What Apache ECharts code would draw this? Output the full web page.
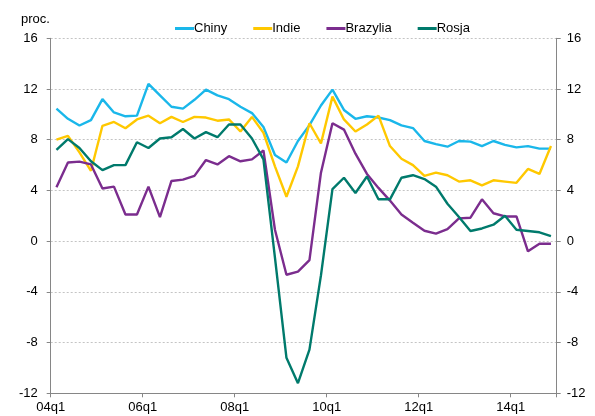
<!DOCTYPE html>
<html>
<head>
<meta charset="utf-8">
<script src="https://cdn.jsdelivr.net/npm/echarts@6/dist/echarts.min.js"></script>
<style>
html,body{margin:0;padding:0;background:#fff;}
#c{width:595px;height:416px;}
</style>
</head>
<body>
<div id="c"></div>
<script>
var categories = [];
(function(){
  for (var y = 4; y <= 14; y++) {
    for (var q = 1; q <= 4; q++) {
      categories.push((y < 10 ? '0' + y : '' + y) + 'q' + q);
    }
  }
})();

var seriesNames = ['Chiny', 'Indie', 'Brazylia', 'Rosja'];

var chiny = [10.45, 9.65, 9.12, 9.55, 11.2, 10.15, 9.85, 9.9, 12.4, 11.5, 10.6, 10.45,
  11.15, 11.95, 11.5, 11.2, 10.6, 10.1, 9.0, 6.8, 6.2, 7.9, 9.15, 10.7,
  11.95, 10.35, 9.65, 9.85, 9.75, 9.55, 9.13, 8.92, 7.9, 7.65, 7.45, 7.9,
  7.85, 7.5, 7.9, 7.6, 7.4, 7.5, 7.3, 7.3];

var indie = [8.0, 8.3, 7.0, 5.55, 9.1, 9.4, 8.9, 9.6, 9.9, 9.3, 9.8, 9.4,
  9.8, 9.75, 9.5, 9.6, 8.65, 9.8, 8.55, 5.9, 3.5, 5.9, 9.3, 7.7,
  11.4, 9.6, 8.65, 9.2, 9.9, 7.5, 6.5, 6.0, 5.15, 5.4, 5.2, 4.7,
  4.8, 4.4, 4.8, 4.7, 4.6, 5.7, 5.3, 7.5];

var brazylia = [4.25, 6.2, 6.27, 6.05, 4.15, 4.3, 2.1, 2.1, 4.3, 1.9, 4.75, 4.85,
  5.15, 6.4, 6.05, 6.7, 6.3, 6.45, 7.15, 0.9, -2.65, -2.4, -1.5, 5.4,
  9.3, 8.8, 6.9, 5.3, 4.2, 3.2, 2.1, 1.45, 0.82, 0.6, 0.95, 1.8,
  1.85, 3.3, 2.2, 1.95, 1.95, -0.8, -0.2, -0.2];

var rosja = [7.2, 8.05, 7.35, 6.3, 5.6, 6.0, 6.0, 7.8, 7.35, 8.1, 8.2, 8.85,
  8.1, 8.6, 8.2, 9.2, 9.2, 8.1, 6.45, -1.3, -9.2, -11.2, -8.55, -2.7,
  4.1, 5.0, 3.8, 5.1, 3.3, 3.3, 5.0, 5.2, 4.9, 4.3, 2.95, 1.9,
  0.8, 1.0, 1.3, 2.0, 0.9, 0.8, 0.7, 0.4];

var colors = ['#1AB7EA', '#FFC800', '#7B2D8E', '#007A6C'];
var yMin = -12, yMax = 16, yStep = 4;
var unitLabel = 'proc.';

var FONT = 'Arial, "Liberation Sans", sans-serif';

function yAxisDef(pos) {
  return {
    type: 'value',
    position: pos,
    min: yMin, max: yMax, interval: yStep,
    axisLine: {show: true, lineStyle: {color: '#868686', width: 1, type: 'solid'}},
    axisTick: {show: true, length: 4, lineStyle: {color: '#868686', type: 'solid'}},
    axisLabel: {
      color: '#000', fontSize: 13, fontFamily: FONT,
      margin: pos === 'left' ? 13 : 10
    },
    splitLine: pos === 'left' ? {show: true, lineStyle: {color: '#C4C4C4', type: [2, 2], width: 1}} : {show: false}
  };
}

var data = [chiny, indie, brazylia, rosja];
var series = seriesNames.map(function(n, k) {
  return {
    name: n,
    type: 'line',
    yAxisIndex: 0,
    data: data[k],
    symbol: 'none',
    smooth: false,
    lineStyle: {color: colors[k], width: 2.4},
    itemStyle: {color: colors[k]},
    z: 2 + k
  };
});

var chart = echarts.init(document.getElementById('c'), null, {renderer: 'canvas'});
chart.setOption({
  animation: false,
  backgroundColor: '#fff',
  color: colors,
  grid: {left: 50.7, right: 38.3, top: 38.3, bottom: 22.7, containLabel: false},
  legend: {
    left: 170, top: 17,
    icon: 'rect', itemWidth: 19, itemHeight: 3, itemGap: 26,
    textStyle: {color: '#000', fontSize: 13, fontFamily: FONT, padding: [0, 0, 0, -5]},
    data: seriesNames
  },
  graphic: [{
    type: 'text', left: 21, top: 13,
    style: {text: unitLabel, fill: '#000', font: '13px ' + FONT}
  }],
  xAxis: {
    type: 'category',
    data: categories,
    boundaryGap: true,
    axisLine: {show: true, onZero: false, lineStyle: {color: '#868686', width: 1, type: 'solid'}},
    axisTick: {show: true, interval: 7, length: 4, lineStyle: {color: '#868686', type: 'solid'}},
    axisLabel: {
      interval: 7, color: '#000', fontSize: 13, fontFamily: FONT, margin: 8,
      padding: [0, 11.5, 0, 0]
    },
    splitLine: {show: false}
  },
  yAxis: [yAxisDef('left'), yAxisDef('right')],
  series: series
});
</script>
</body>
</html>
